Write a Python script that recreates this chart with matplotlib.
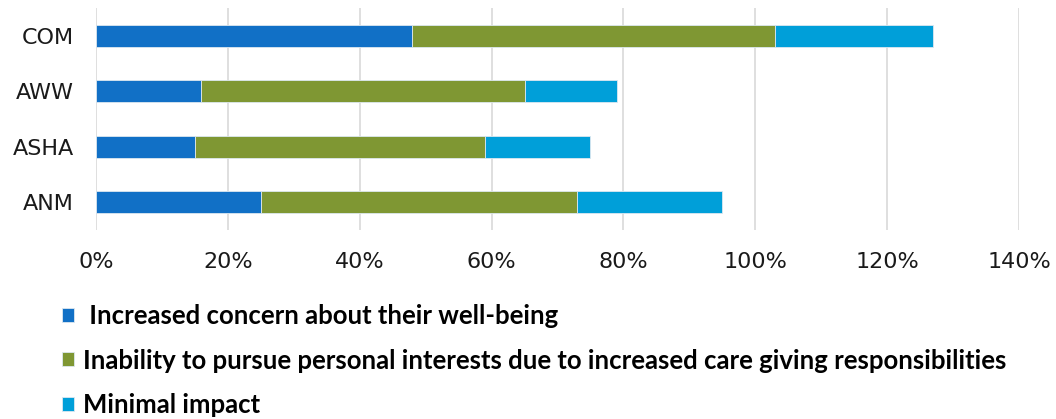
import numpy as np
import matplotlib.pyplot as plt
from matplotlib.ticker import PercentFormatter

# stacked shares per cadre (percent)
groups = ['COM', 'AWW', 'ASHA', 'ANM']
concern = [48, 16, 15, 25]
no_interests = [55, 49, 44, 48]
minimal = [24, 14, 16, 22]

labels = [' Increased concern about their well-being',
          'Inability to pursue personal interests due to increased care giving responsibilities',
          'Minimal impact']
colors = ['#1170c6', '#7f9733', '#009fd9']

plt.rcParams['font.family'] = ['DejaVu Sans']

fig = plt.figure(figsize=(10.56, 4.19), dpi=100)
ax = fig.add_axes([96/1056, 1 - 230/419, (1019-96)/1056, 222/419])

y = np.arange(len(groups))[::-1]
left = np.zeros(len(groups))
for vals, lab, col in zip([concern, no_interests, minimal], labels, colors):
    ax.barh(y, vals, left=left, height=0.4, color=col, label=lab,
            edgecolor='#dde8f0', linewidth=0.6)
    left += np.array(vals)

ax.set_xlim(0, 140)
ax.set_ylim(-0.5, 3.5)
ax.set_xticks(np.arange(0, 141, 20))
ax.xaxis.set_major_formatter(PercentFormatter(decimals=0))
ax.set_yticks(y)
ax.set_yticklabels(groups)
ax.tick_params(axis='both', length=0, labelsize=16, colors='#1a1a1a')
ax.tick_params(axis='x', pad=16)
ax.tick_params(axis='y', pad=16)
ax.grid(axis='x', color='#d9d9d9', linewidth=1.2)
ax.set_axisbelow(True)
for s in ax.spines.values():
    s.set_visible(False)

handles, labs = ax.get_legend_handles_labels()
leg = fig.legend(handles, labs, loc='upper left', bbox_to_anchor=(0.049, 0.299),
                 ncol=1, frameon=False, borderaxespad=0, handlelength=0.45,
                 handleheight=0.45, handletextpad=0.35, labelspacing=0.8,
                 prop={'family': 'Lato', 'size': 18.5, 'weight': 'bold'})

fig.savefig('out.png', dpi=100)
